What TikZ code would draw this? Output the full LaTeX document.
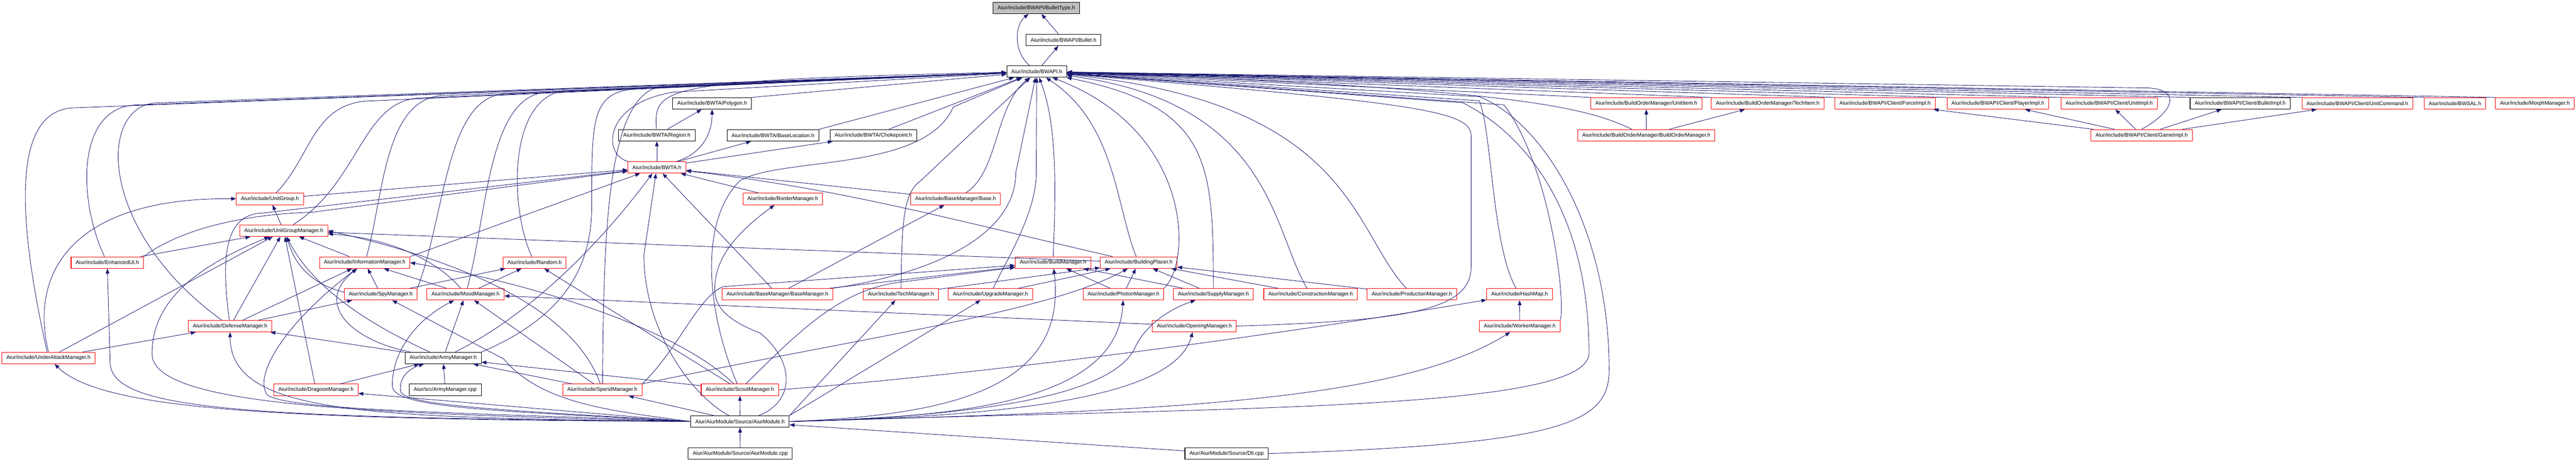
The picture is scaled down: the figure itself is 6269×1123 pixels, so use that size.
\documentclass[tikz,border=0pt]{standalone}
\usepackage{fontspec}
\setmainfont{Liberation Sans}
\usetikzlibrary{arrows.meta}
\definecolor{edgeblue}{RGB}{25,25,112}
\newcommand{\bwup}[4]{\draw (#1) .. controls (#2,#3) and (#2,#4) .. (#2+150,#4) -- (BWAPI);}

\begin{document}
\begin{tikzpicture}[->,>={Triangle[length=12pt,width=9pt]},x=1pt,y=1pt,line width=1.1pt,edgeblue,
  file/.style={shape=rectangle, draw=black, line width=1.3pt, text=black, minimum height=28pt, inner xsep=11pt, inner ysep=0pt, font=\fontsize{13}{15}\selectfont},
  trunc/.style={file, draw=red},
  root/.style={file, fill=black!25}]
\useasboundingbox (0,0) rectangle (6269,-1123);

\node[root] (BulletType) at (2522,-19.5) {Aiur/include/BWAPI/BulletType.h};
\node[file] (Bullet) at (2588,-97) {Aiur/include/BWAPI/Bullet.h};
\node[file] (BWAPI) at (2523,-174) {Aiur/include/BWAPI.h};
\node[file] (Polygon) at (1733,-251.5) {Aiur/include/BWTA/Polygon.h};
\node[trunc] (UnitItem) at (4006.5,-251.5) {Aiur/include/BuildOrderManager/UnitItem.h};
\node[trunc] (TechItem) at (4302,-251.5) {Aiur/include/BuildOrderManager/TechItem.h};
\node[trunc] (ForceImpl) at (4587.5,-251.5) {Aiur/include/BWAPI/Client/ForceImpl.h};
\node[trunc] (PlayerImpl) at (4862,-251.5) {Aiur/include/BWAPI/Client/PlayerImpl.h};
\node[trunc] (UnitImpl) at (5133,-251.5) {Aiur/include/BWAPI/Client/UnitImpl.h};
\node[file] (BulletImpl) at (5451.5,-251.5) {Aiur/include/BWAPI/Client/BulletImpl.h};
\node[trunc] (UnitCommand) at (5737,-251.5) {Aiur/include/BWAPI/Client/UnitCommand.h};
\node[trunc] (BWSAL) at (5974.5,-251.5) {Aiur/include/BWSAL.h};
\node[trunc] (MorphMgr) at (6169,-251.5) {Aiur/include/MorphManager.h};
\node[file] (Region) at (1598.5,-329) {Aiur/include/BWTA/Region.h};
\node[file] (BaseLoc) at (1881,-329) {Aiur/include/BWTA/BaseLocation.h};
\node[file] (Choke) at (2125.5,-329) {Aiur/include/BWTA/Chokepoint.h};
\node[trunc] (BuildOrderMgr) at (4006.5,-329) {Aiur/include/BuildOrderManager/BuildOrderManager.h};
\node[trunc] (GameImpl) at (5212,-329) {Aiur/include/BWAPI/Client/GameImpl.h};
\node[trunc] (BWTA) at (1598.5,-407) {Aiur/include/BWTA.h};
\node[trunc] (UnitGroup) at (657,-484) {Aiur/include/UnitGroup.h};
\node[trunc] (BorderMgr) at (1905,-484) {Aiur/include/BorderManager.h};
\node[trunc] (Base) at (2325.5,-484) {Aiur/include/BaseManager/Base.h};
\node[trunc] (UnitGroupMgr) at (690.5,-561) {Aiur/include/UnitGroupManager.h};
\node[trunc] (EnhancedUI) at (261,-638.5) {Aiur/include/EnhancedUI.h};
\node[trunc] (InfoMgr) at (887.5,-638.5) {Aiur/include/InformationManager.h};
\node[trunc] (Random) at (1301,-638.5) {Aiur/include/Random.h};
\node[trunc] (BuildMgr) at (2562.5,-638.5) {Aiur/include/BuildManager.h};
\node[trunc] (BuildingPlacer) at (2771,-638.5) {Aiur/include/BuildingPlacer.h};
\node[trunc] (SpyMgr) at (926.5,-715.5) {Aiur/include/SpyManager.h};
\node[trunc] (MoodMgr) at (1133,-715.5) {Aiur/include/MoodManager.h};
\node[trunc] (BaseMgr) at (1892,-715.5) {Aiur/include/BaseManager/BaseManager.h};
\node[trunc] (TechMgr) at (2192.5,-715.5) {Aiur/include/TechManager.h};
\node[trunc] (UpgradeMgr) at (2410.5,-715.5) {Aiur/include/UpgradeManager.h};
\node[trunc] (PhotonMgr) at (2734,-715.5) {Aiur/include/PhotonManager.h};
\node[trunc] (SupplyMgr) at (2953,-715.5) {Aiur/include/SupplyManager.h};
\node[trunc] (ConstructionMgr) at (3189.5,-715.5) {Aiur/include/ConstructionManager.h};
\node[trunc] (ProductionMgr) at (3436,-715.5) {Aiur/include/ProductionManager.h};
\node[trunc] (HashMap) at (3698,-715.5) {Aiur/include/HashMap.h};
\node[trunc] (DefenseMgr) at (560,-793) {Aiur/include/DefenseManager.h};
\node[trunc] (OpeningMgr) at (2906.5,-793) {Aiur/include/OpeningManager.h};
\node[trunc] (WorkerMgr) at (3698.5,-793) {Aiur/include/WorkerManager.h};
\node[trunc] (UnderAttackMgr) at (118,-870.5) {Aiur/include/UnderAttackManager.h};
\node[file] (ArmyMgr) at (1078.5,-870.5) {Aiur/include/ArmyManager.h};
\node[file] (ArmyCpp) at (1083.5,-948) {Aiur/src/ArmyManager.cpp};
\node[trunc] (DragoonMgr) at (769,-948) {Aiur/include/DragoonManager.h};
\node[trunc] (SpendMgr) at (1466,-948) {Aiur/include/SpendManager.h};
\node[trunc] (ScoutMgr) at (1800.5,-948) {Aiur/include/ScoutManager.h};
\node[file] (AiurH) at (1801,-1025) {Aiur/AiurModule/Source/AiurModule.h};
\node[file] (AiurCpp) at (1801.5,-1103) {Aiur/AiurModule/Source/AiurModule.cpp};
\node[file] (DllCpp) at (2985,-1103) {Aiur/AiurModule/Source/Dll.cpp};

\path (Bullet) edge (BulletType)
	(BWAPI) edge (Bullet)
	(Polygon.north east) edge (BWAPI)
	(UnitItem.north west) edge (BWAPI)
	(TechItem.north west) edge (BWAPI)
	(ForceImpl.north west) edge (BWAPI)
	(PlayerImpl.north west) edge (BWAPI)
	(UnitImpl.north west) edge (BWAPI)
	(BulletImpl.north west) edge (BWAPI)
	(UnitCommand.north west) edge (BWAPI)
	(BWSAL.north west) edge (BWAPI)
	(MorphMgr.north west) edge (BWAPI)
	(Region) edge (Polygon)
	(BaseLoc.north east) edge (BWAPI)
	(Choke) edge (BWAPI)
	(BuildOrderMgr) edge (UnitItem)
	(BuildOrderMgr) edge (TechItem)
	(GameImpl) edge (ForceImpl)
	(GameImpl) edge (PlayerImpl)
	(GameImpl) edge (UnitImpl)
	(GameImpl) edge (BulletImpl)
	(GameImpl) edge (UnitCommand)
	(BWTA) edge (Region)
	(BWTA) edge (BaseLoc)
	(BWTA) edge (Choke)
	(UnitGroup) edge (BWTA)
	(BorderMgr) edge (BWTA)
	(Base) edge (BWTA)
	(UnitGroupMgr) edge (UnitGroup)
	(EnhancedUI) edge (UnitGroupMgr)
	(InfoMgr) edge (UnitGroupMgr)
	(InfoMgr.north east) edge (BWTA)
	(SpyMgr) edge (InfoMgr)
	(SpyMgr) edge (Random)
	(SpyMgr) edge[bend left=30] (UnitGroupMgr)
	(MoodMgr) edge (InfoMgr)
	(MoodMgr) edge (Random)
	(BuildingPlacer) edge (UnitGroupMgr)
	(BaseMgr) edge (Base)
	(BaseMgr) edge (BWTA)
	(BaseMgr) edge (BuildMgr)
	(TechMgr) edge (BuildingPlacer)
	(UpgradeMgr) edge (BuildingPlacer)
	(PhotonMgr) edge (BuildMgr)
	(PhotonMgr) edge (BuildingPlacer)
	(SupplyMgr) edge (BuildMgr)
	(SupplyMgr) edge (BuildingPlacer)
	(ConstructionMgr) edge (BuildingPlacer)
	(ProductionMgr) edge (BuildingPlacer)
	(WorkerMgr) edge (HashMap)
	(OpeningMgr) edge (MoodMgr)
	(DefenseMgr) edge (UnitGroupMgr)
	(DefenseMgr) edge (InfoMgr)
	(DefenseMgr) edge (SpyMgr)
	(UnderAttackMgr) edge (DefenseMgr)
	(UnderAttackMgr) edge (UnitGroupMgr)
	(ArmyCpp) edge (ArmyMgr)
	(ArmyMgr) edge (MoodMgr)
	(ArmyMgr) edge (DefenseMgr)
	(DragoonMgr) edge (ArmyMgr)
	(DragoonMgr) edge (UnitGroupMgr)
	(SpendMgr) edge (MoodMgr)
	(SpendMgr) edge (ArmyMgr)
	(ScoutMgr) edge (ArmyMgr)
	(ScoutMgr) edge (Random)
	(AiurCpp) edge (AiurH)
	(AiurH) edge (ScoutMgr)
	(AiurH) edge (SpendMgr)
	(AiurH.west) edge (DragoonMgr)
	(AiurH.north east) edge (TechMgr)
	(AiurH.north east) edge (UpgradeMgr)
	(DllCpp) edge (AiurH);

\draw (BWAPI) .. controls (2465,-125) and (2470,-60) .. (BulletType);
\draw (Region) .. controls (1590,-210) and (1610,-195) .. (BWAPI);
\draw ([xshift=-35pt]BuildOrderMgr.north) .. controls (3860,-262) and (3700,-215) .. (BWAPI);
\draw (GameImpl.north) .. controls (5300,-265) and (5300,-218) .. (5230,-214) -- (BWAPI);
\draw (BWTA) .. controls (1720,-370) and (1733,-310) .. (Polygon);
\draw (BWTA.north west) .. controls (1465,-375) and (1470,-250) .. (1640,-224) -- (BWAPI);
\draw (Base) .. controls (2430,-420) and (2420,-260) .. (BWAPI);
\draw (MoodMgr) .. controls (1070,-640) and (960,-580) .. (UnitGroupMgr);
\draw (UnderAttackMgr.north) .. controls (70,-660) and (180,-480) .. (UnitGroup);
\draw (EnhancedUI.north east) .. controls (420,-570) and (560,-522) .. (760,-516) -- (BWTA);
\draw (DefenseMgr) .. controls (540,-640) and (540,-520) .. (640,-518) -- (BWTA);
\draw (BuildingPlacer) .. controls (2300,-530) and (2050,-460) .. (BWTA);

\bwup{UnderAttackMgr}{35}{-500}{-262}
\bwup{EnhancedUI}{187}{-480}{-255}
\bwup{DefenseMgr}{236}{-560}{-250}
\bwup{UnitGroup}{760}{-380}{-245}
\bwup{UnitGroupMgr}{880}{-440}{-238}
\bwup{InfoMgr}{934}{-480}{-232}
\bwup{SpyMgr.north east}{1085}{-520}{-228}
\bwup{MoodMgr}{1187}{-520}{-224}
\bwup{Random}{1237}{-500}{-220}
\bwup{SpendMgr}{1470}{-600}{-210}
\draw (ArmyMgr.north east) .. controls (1400,-760) and (1440,-620) .. (1440,-500) .. controls (1440,-260) and (1440,-214) .. (1590,-214) -- (BWAPI);

\draw (ArmyMgr) .. controls (900,-790) and (760,-700) .. (UnitGroupMgr);
\draw (ArmyMgr) .. controls (860,-830) and (760,-740) .. (InfoMgr);
\draw (ArmyMgr) .. controls (1300,-760) and (1470,-580) .. (BWTA);
\draw (SpendMgr) .. controls (1400,-760) and (1150,-640) .. (UnitGroupMgr.east);
\draw (SpendMgr.north east) .. controls (1650,-850) and (1700,-720) .. (1760,-697) -- (BuildMgr);
\draw (SpendMgr.north east) .. controls (2100,-820) and (2550,-760) .. (BuildingPlacer);
\draw (ScoutMgr) .. controls (1650,-800) and (1300,-690) .. (InfoMgr.east);
\draw (ScoutMgr) .. controls (1720,-760) and (1700,-540) .. (1800,-440) .. controls (1900,-380) and (2250,-420) .. (2320,-260) -- (BWAPI);
\draw (ScoutMgr) .. controls (1950,-800) and (2050,-700) .. (2200,-685) -- (BuildMgr);
\draw (ScoutMgr.east) .. controls (2500,-900) and (3200,-800) .. (HashMap);

\draw (TechMgr) .. controls (2195,-560) and (2195,-470) .. (2240,-440) -- (BWAPI);
\draw (UpgradeMgr) .. controls (2445,-640) and (2522,-520) .. (2522,-420) -- (BWAPI);
\draw (BaseMgr.north east) .. controls (2300,-660) and (2472,-560) .. (2472,-420) -- (BWAPI);
\draw (BuildMgr) .. controls (2570,-450) and (2572,-300) .. (BWAPI);
\draw (BuildingPlacer) .. controls (2715,-500) and (2715,-300) .. (BWAPI);
\draw (PhotonMgr.north east) .. controls (2900,-640) and (2905,-320) .. (BWAPI);
\draw (SupplyMgr) .. controls (2952,-400) and (2950,-260) .. (BWAPI);
\draw (ConstructionMgr) .. controls (3096,-560) and (3096,-250) .. (BWAPI);
\draw (ProductionMgr) .. controls (3290,-560) and (3290,-250) .. (BWAPI);
\draw (OpeningMgr.east) .. controls (3400,-780) and (3580,-760) .. (3580,-650) -- (3580,-330) .. controls (3580,-270) and (3450,-250) .. (BWAPI);
\draw (HashMap) .. controls (3631,-600) and (3631,-320) .. (3600,-245) -- (BWAPI);
\draw (WorkerMgr.north east) .. controls (3810,-720) and (3770,-400) .. (3660,-255) -- (BWAPI);

\draw (AiurH) .. controls (1680,-960) and (1567,-800) .. (1567,-620) -- (BWTA);
\draw ([xshift=46pt]AiurH.north) .. controls (1935,-975) and (1935,-880) .. (1850,-810) .. controls (1760,-775) and (1735,-740) .. (1740,-690) .. controls (1745,-620) and (1800,-560) .. (BorderMgr);
\draw (AiurH.west) .. controls (1300,-1000) and (975,-990) .. (975,-950) .. controls (970,-915) and (1000,-895) .. (ArmyMgr);
\draw (AiurH.west) .. controls (1250,-1000) and (958,-995) .. (955,-940) .. controls (952,-880) and (990,-790) .. (MoodMgr);
\draw (AiurH.west) .. controls (1500,-1000) and (1320,-985) .. (1226,-873) -- (SpyMgr);
\draw (AiurH.west) .. controls (1200,-1005) and (700,-1000) .. (650,-960) .. controls (615,-910) and (700,-780) .. (InfoMgr);
\draw (AiurH.west) .. controls (900,-1015) and (560,-1010) .. (DefenseMgr);
\draw (AiurH.west) .. controls (700,-1020) and (250,-1000) .. (UnderAttackMgr);
\draw (AiurH.west) .. controls (600,-1015) and (268,-1000) .. (268,-880) -- (EnhancedUI);
\draw (AiurH.west) .. controls (900,-1005) and (370,-990) .. (370,-860) .. controls (370,-720) and (500,-640) .. (UnitGroupMgr);
\draw (AiurH.east) .. controls (2300,-1010) and (2600,-950) .. (BuildMgr);
\draw (AiurH.east) .. controls (2400,-1015) and (2720,-960) .. (PhotonMgr);
\draw (AiurH.east) .. controls (2400,-1012) and (2700,-960) .. (2760,-850) .. controls (2785,-790) and (2850,-750) .. (SupplyMgr);
\draw (AiurH.east) .. controls (2500,-1012) and (2860,-960) .. (OpeningMgr);
\draw (AiurH.east) .. controls (2800,-1000) and (3400,-980) .. (WorkerMgr);
\draw (AiurH.east) .. controls (3000,-990) and (3860,-1000) .. (3867,-860) .. controls (3867,-500) and (3700,-320) .. (3560,-250) -- (BWAPI);
\draw (DllCpp.east) .. controls (3800,-1080) and (3916,-1030) .. (3916,-900) .. controls (3916,-560) and (3760,-300) .. (3600,-235) -- (BWAPI);
\end{tikzpicture}
\end{document}
